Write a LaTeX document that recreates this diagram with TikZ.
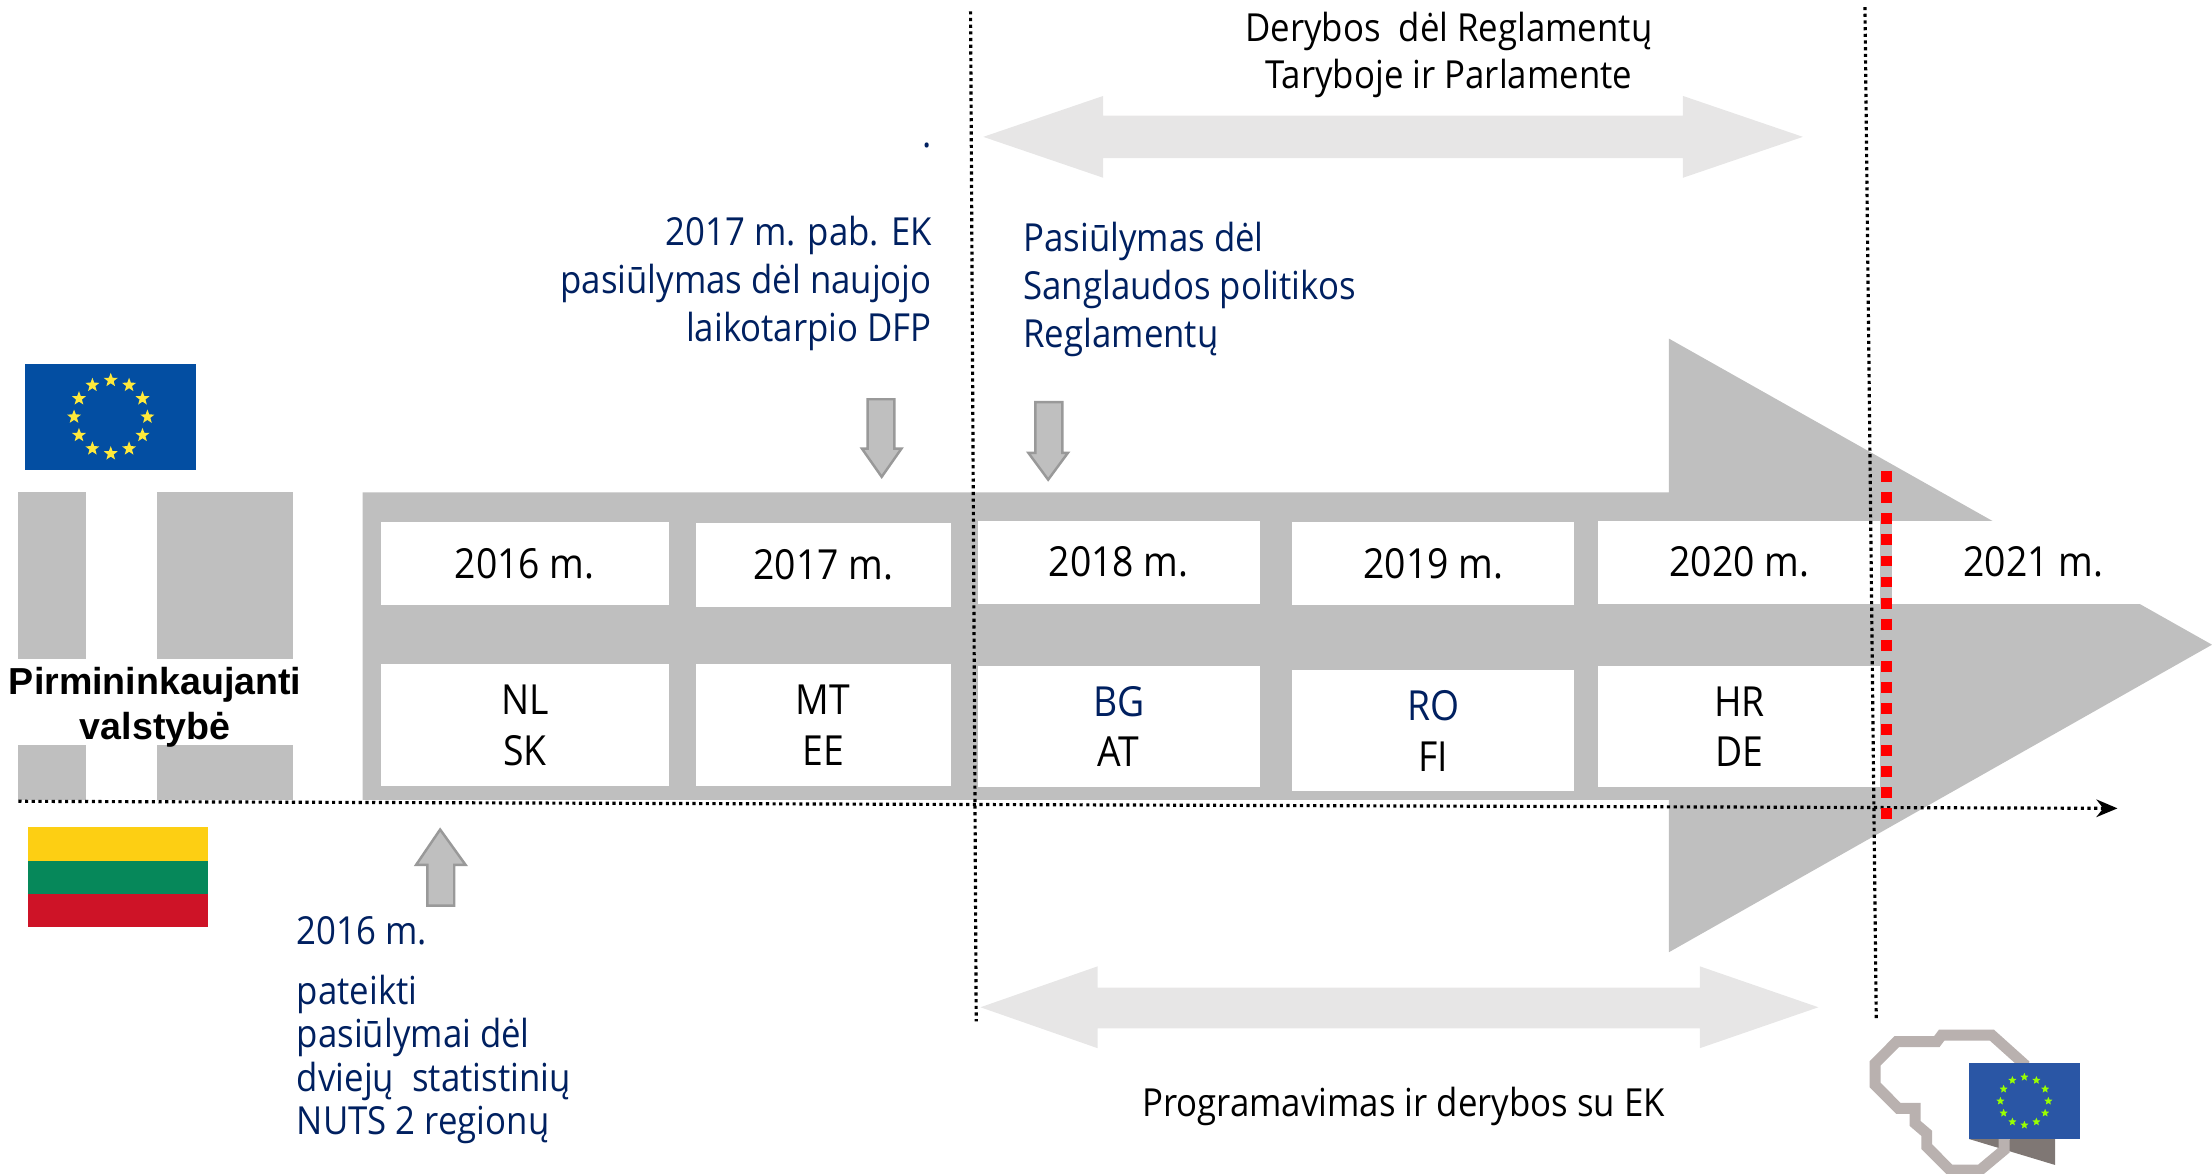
\documentclass[tikz,border=0pt]{standalone}
\usepackage{fontspec}
\setmainfont[FakeStretch=0.9]{Open Sans}
\newfontfamily\boldsans{Liberation Sans}
\usetikzlibrary{arrows.meta,shapes.geometric}
\definecolor{bargray}{HTML}{BFBFBF}
\definecolor{palegray}{HTML}{E7E6E6}
\definecolor{navytext}{HTML}{002060}
\definecolor{eublue}{HTML}{034EA2}
\definecolor{eustarcol}{HTML}{FFE93B}
\definecolor{logoblue}{HTML}{2A56A5}
\definecolor{logogray}{HTML}{B9B1AF}
\definecolor{logoshadow}{HTML}{7F7774}
\definecolor{ltyellow}{HTML}{FDCF13}
\definecolor{ltgreen}{HTML}{06885A}
\definecolor{ltred}{HTML}{CE1327}
\tikzset{
  yearbox/.style={fill=white, inner sep=0pt, align=center, font=\fontsize{11.8}{14.4}\selectfont},
  bluetext/.style={text=navytext, inner sep=0pt, font=\fontsize{11}{13.6}\selectfont},
  blacktext/.style={inner sep=0pt, align=center, font=\fontsize{11}{13.6}\selectfont},
  guide/.style={densely dotted, line width=0.9pt},
  marker/.style={fill=bargray, draw=black!40, line width=0.7pt},
  eustar/.style={star, star points=5, star point ratio=2.4, fill=eustarcol, inner sep=0pt, minimum size=4.2pt},
  logostar/.style={star, star points=5, star point ratio=2.2, fill=green!40!yellow, inner sep=0pt, minimum size=2.4pt}
}
\begin{document}
\begin{tikzpicture}[x=0.014107cm, y=-0.014107cm]
  \useasboundingbox (0, 0) rectangle (1568, 832.2);

  % main arrow
  \fill[bargray] (257, 349) -- (1183, 349) -- (1183, 240) -- (1568, 457) -- (1183, 675) -- (1183, 567) -- (257, 567) -- cycle;
  \fill[bargray] (13, 349) rectangle (61, 467);
  \fill[bargray] (111, 349) rectangle (208, 467);
  \fill[bargray] (13, 528) rectangle (61, 567);
  \fill[bargray] (111, 528) rectangle (208, 567);

  % years
  \node[yearbox, minimum width=204*0.14107mm, minimum height=59*0.14107mm] (y2016) at (372, 399.5) {2016 m.};
  \node[yearbox, minimum width=181*0.14107mm, minimum height=59*0.14107mm] (y2017) at (583.5, 400.5) {2017 m.};
  \node[yearbox, minimum width=200*0.14107mm, minimum height=59*0.14107mm] (y2018) at (793, 398.5) {2018 m.};
  \node[yearbox, minimum width=200*0.14107mm, minimum height=59*0.14107mm] (y2019) at (1016, 399.5) {2019 m.};
  \node[yearbox, minimum width=200*0.14107mm, minimum height=59*0.14107mm] (y2020) at (1233, 398.5) {2020 m.};
  \node[yearbox, minimum width=228*0.14107mm, minimum height=59*0.14107mm] (y2021) at (1455, 398.5) {\hspace*{-11pt}2021 m.};

  % presidencies
  \node[yearbox, minimum width=204*0.14107mm, minimum height=86*0.14107mm] (p2016) at (372, 514) {NL\\SK};
  \node[yearbox, minimum width=181*0.14107mm, minimum height=86*0.14107mm] (p2017) at (583.5, 514) {MT\\EE};
  \node[yearbox, minimum width=200*0.14107mm, minimum height=86*0.14107mm] (p2018) at (793, 515) {\textcolor{navytext}{BG}\\AT};
  \node[yearbox, minimum width=200*0.14107mm, minimum height=86*0.14107mm] (p2019) at (1016, 518) {\textcolor{navytext}{RO}\\FI};
  \node[yearbox, minimum width=200*0.14107mm, minimum height=86*0.14107mm] (p2020) at (1233, 515) {HR\\DE};

  \node[inner sep=0pt, align=center, font=\boldsans\bfseries\fontsize{10.7}{12.8}\selectfont] (chair) at (110, 501.5) {Pirmininkaujanti\\valstybė};

  % flags
  \fill[eublue] (18, 258) rectangle (139, 333);
  \foreach \a in {0, 30, ..., 330}
    \node[eustar] (euflag\a) at ([shift={(78.5, 295.5)}] \a:26) {};
  \fill[ltyellow] (20, 586) rectangle (147.5, 610);
  \fill[ltgreen] (20, 610) rectangle (147.5, 633.5);
  \fill[ltred] (20, 633.5) rectangle (147.5, 657);

  % lines
  \draw[guide] (688, 8) -- (692, 724);
  \draw[guide] (1322, 5) -- (1330, 722);
  \draw[guide, -{Stealth[length=6pt, width=5pt]}] (13, 568) -- (1501, 573);
  \draw[red, line width=3.2pt, dash pattern=on 3.1pt off 2.9pt] (1337, 334) -- (1337, 582);

  % pale arrows
  \fill[palegray] (697, 97) -- (782, 68) -- (782, 82) -- (1193, 82) -- (1193, 68) -- (1278, 97) -- (1193, 126) -- (1193, 112) -- (782, 112) -- (782, 126) -- cycle;
  \fill[palegray] (695, 714) -- (778, 685) -- (778, 700) -- (1205, 700) -- (1205, 685) -- (1289, 714) -- (1205, 743) -- (1205, 729) -- (778, 729) -- (778, 743) -- cycle;

  % small arrows
  \draw[marker] (615, 283) -- (634, 283) -- (634, 318) -- (639, 318) -- (625, 338) -- (611, 318) -- (615, 318) -- cycle;
  \draw[marker] (734, 285) -- (753, 285) -- (753, 321) -- (757, 321) -- (743, 340) -- (729, 321) -- (734, 321) -- cycle;
  \draw[marker] (303, 642) -- (322, 642) -- (322, 613) -- (330, 613) -- (312, 588) -- (295, 613) -- (303, 613) -- cycle;

  % texts
  \node[blacktext] (talks) at (1027, 39) {Derybos~~dėl Reglamentų\\Taryboje ir Parlamente};
  \node[bluetext, anchor=east] (dot) at (661, 103) {.};
  \node[bluetext, align=right, anchor=east] (proposal) at (661, 201) {2017 m. pab. EK\\pasiūlymas dėl naujojo\\laikotarpio DFP};
  \node[bluetext, align=left, anchor=west] (regulation) at (725, 205) {Pasiūlymas dėl\\Sanglaudos politikos\\Reglamentų};
  \node[bluetext, anchor=west] (year) at (210, 660) {2016 m.};
  \node[bluetext, align=left, anchor=west, font=\fontsize{11}{12.3}\selectfont] (nuts) at (210, 751) {pateikti\\pasiūlymai dėl\\dviejų~~statistinių\\NUTS 2 regionų};
  \node[blacktext] (programming) at (995, 784) {Programavimas ir derybos su EK};

  % logo
  \fill[logoshadow] (1395.8, 807.4) -- (1456.8, 825.8) -- (1456.8, 807.4) -- cycle;
  \draw[logogray, line width=3.1pt] (1344.5, 738.4) -- (1372.9, 738.4) -- (1376.4, 733.7) -- (1411.9, 733.7) -- (1434.3, 753.8) -- (1420.6, 808.1) -- (1420.6, 815.2) -- (1403.6, 829.4) -- (1382.3, 829.4) -- (1365.8, 812.8) -- (1365.8, 803.4) -- (1357.5, 796.3) -- (1357.5, 785.7) -- (1345.7, 785.7) -- (1329.2, 769.1) -- (1329.2, 753.8) -- cycle;
  \fill[logoblue] (1395.8, 753.8) rectangle (1474.5, 807.4);
  \foreach \a in {0, 30, ..., 330}
    \node[logostar] (logoflag\a) at ([shift={(1435, 780.5)}] \a:17) {};
\end{tikzpicture}
\end{document}
